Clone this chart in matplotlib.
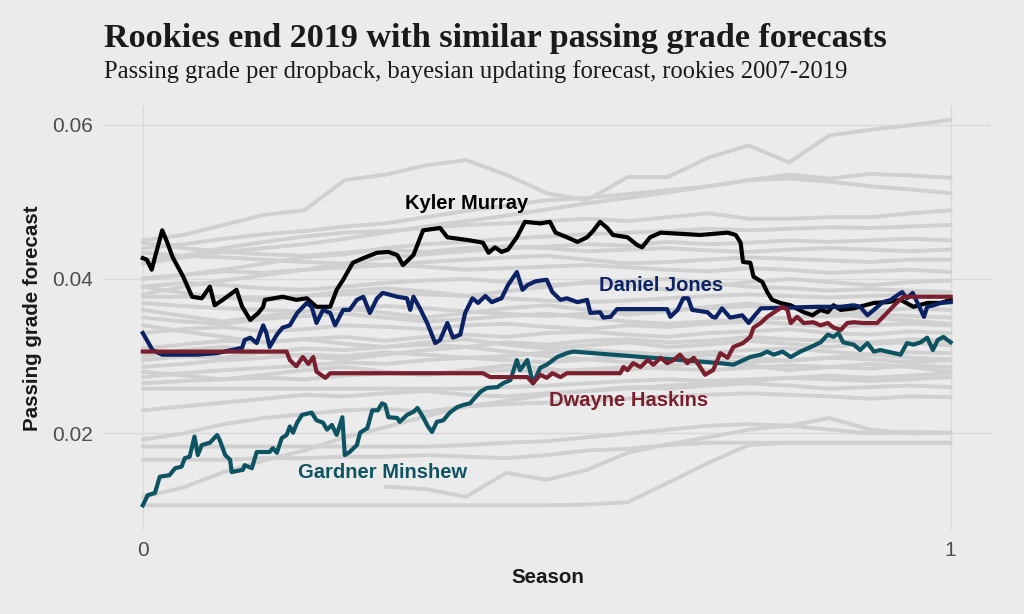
import numpy as np
import matplotlib
matplotlib.use("Agg")
import matplotlib.pyplot as plt

# ===== data =====
season_grid = [0.00, 0.05, 0.10, 0.15, 0.20, 0.25, 0.30, 0.35, 0.40, 0.45, 0.50,
               0.55, 0.60, 0.65, 0.70, 0.75, 0.80, 0.85, 0.90, 0.95, 1.00]

# other rookies 2007-2019 (grey background)
rookies_other = [
    [.0450, .0457, .0470, .0483, .0489, .0528, .0535, .0547, .0554, .0535, .0511,
     .0502, .0532, .0532, .0557, .0573, .0551, .0586, .0593, .0599, .0606],
    [.0440, .0445, .0452, .0458, .0462, .0468, .0472, .0480, .0488, .0495, .0502,
     .0505, .0510, .0515, .0520, .0528, .0535, .0530, .0536, .0534, .0531],
    [.0420, .0428, .0435, .0440, .0445, .0452, .0460, .0468, .0475, .0482, .0490,
     .0498, .0505, .0512, .0520, .0528, .0530, .0526, .0520, .0516, .0511],
    [.0425, .0430, .0440, .0448, .0455, .0460, .0462, .0466, .0470, .0472, .0475,
     .0478, .0475, .0480, .0485, .0478, .0478, .0480, .0480, .0485, .0489],
    [.0400, .0405, .0412, .0420, .0428, .0432, .0440, .0445, .0448, .0452, .0455,
     .0458, .0460, .0462, .0465, .0463, .0465, .0467, .0466, .0468, .0470],
    [.0380, .0390, .0398, .0405, .0412, .0420, .0428, .0432, .0436, .0440, .0442,
     .0445, .0443, .0448, .0445, .0447, .0450, .0448, .0450, .0452, .0450],
    [.0447, .0440, .0435, .0432, .0430, .0434, .0438, .0435, .0440, .0442, .0440,
     .0436, .0438, .0440, .0437, .0435, .0438, .0440, .0438, .0436, .0438],
    [.0434, .0430, .0428, .0425, .0422, .0420, .0418, .0422, .0425, .0428, .0430,
     .0425, .0420, .0422, .0425, .0428, .0426, .0424, .0422, .0425, .0425],
    [.0401, .0405, .0410, .0408, .0412, .0415, .0418, .0416, .0412, .0414, .0416,
     .0418, .0415, .0412, .0410, .0414, .0412, .0408, .0410, .0412, .0409],
    [.0390, .0395, .0392, .0388, .0386, .0390, .0395, .0398, .0400, .0396, .0392,
     .0395, .0398, .0400, .0395, .0390, .0388, .0385, .0387, .0385, .0383],
    [.0377, .0377, .0377, .0376, .0378, .0380, .0382, .0380, .0378, .0375, .0372,
     .0370, .0372, .0375, .0378, .0380, .0378, .0376, .0378, .0380, .0378],
    [.0369, .0365, .0362, .0360, .0358, .0362, .0365, .0362, .0358, .0355, .0352,
     .0355, .0358, .0360, .0362, .0365, .0362, .0360, .0358, .0362, .0360],
    [.0350, .0345, .0342, .0348, .0352, .0355, .0350, .0345, .0348, .0352, .0355,
     .0350, .0345, .0342, .0345, .0348, .0350, .0352, .0355, .0352, .0350],
    [.0330, .0335, .0338, .0332, .0335, .0340, .0338, .0335, .0340, .0342, .0338,
     .0335, .0340, .0338, .0342, .0345, .0342, .0338, .0340, .0342, .0340],
    [.0310, .0315, .0320, .0318, .0322, .0325, .0320, .0325, .0328, .0325, .0330,
     .0332, .0328, .0325, .0330, .0332, .0335, .0330, .0328, .0332, .0330],
    [.0295, .0300, .0298, .0305, .0310, .0308, .0312, .0315, .0312, .0318, .0315,
     .0320, .0322, .0318, .0320, .0325, .0322, .0320, .0318, .0322, .0320],
    [.0286, .0290, .0295, .0298, .0302, .0300, .0305, .0302, .0298, .0300, .0305,
     .0308, .0305, .0302, .0305, .0308, .0310, .0306, .0302, .0305, .0304],
    [.0273, .0278, .0282, .0285, .0288, .0292, .0290, .0295, .0298, .0295, .0292,
     .0296, .0300, .0298, .0295, .0292, .0295, .0298, .0296, .0292, .0295],
    [.0265, .0268, .0270, .0272, .0270, .0275, .0278, .0276, .0280, .0282, .0280,
     .0283, .0286, .0284, .0282, .0285, .0288, .0286, .0284, .0288, .0286],
    [.0258, .0258, .0258, .0258, .0258, .0258, .0258, .0258, .0258, .0260, .0262,
     .0265, .0268, .0270, .0268, .0270, .0272, .0270, .0268, .0270, .0273],
    [.0230, .0235, .0240, .0245, .0250, .0248, .0252, .0255, .0250, .0248, .0252,
     .0255, .0260, .0258, .0262, .0265, .0262, .0258, .0260, .0262, .0260],
    [.0192, .0200, .0212, .0220, .0225, .0230, .0232, .0228, .0235, .0238, .0240,
     .0242, .0245, .0248, .0250, .0252, .0250, .0248, .0245, .0248, .0247],
    [.0183, .0183, .0183, .0183, .0183, .0183, .0183, .0183, .0185, .0188, .0190,
     .0195, .0200, .0205, .0210, .0212, .0210, .0205, .0200, .0202, .0201],
    [.0166, .0166, .0166, .0168, .0168, .0170, .0170, .0172, .0170, .0168, .0172,
     .0178, .0180, .0185, .0188, .0188, .0188, .0188, .0188, .0188, .0188],
    [.0107, .0107, .0107, .0107, .0107, .0107, .0107, .0107, .0107, .0107, .0107,
     .0108, .0111, .0136, .0162, .0185, .0188, .0188, .0188, .0188, .0188],
    [.0118, .0130, .0150, .0165, .0178, .0195, .0208, .0222, .0235, .0242, .0250,
     .0255, .0258, .0262, .0265, .0268, .0272, .0275, .0272, .0275, .0278],
    [np.nan, np.nan, np.nan, np.nan, np.nan, np.nan, .0131, .0128, .0118, .0149, .0140,
     .0153, .0175, .0186, .0195, .0205, .0210, .0220, .0205, .0200, .0201],
    [.0340, .0332, .0325, .0318, .0322, .0316, .0312, .0318, .0322, .0315, .0310,
     .0314, .0318, .0312, .0315, .0320, .0316, .0312, .0316, .0318, .0314],
    [.0300, .0308, .0312, .0305, .0300, .0296, .0302, .0308, .0312, .0306, .0300,
     .0296, .0292, .0298, .0302, .0298, .0294, .0298, .0302, .0298, .0296],
    [.0280, .0275, .0270, .0276, .0282, .0286, .0280, .0276, .0282, .0288, .0284,
     .0278, .0282, .0288, .0292, .0288, .0282, .0286, .0290, .0286, .0280],
    [.0360, .0352, .0345, .0352, .0358, .0362, .0356, .0350, .0356, .0362, .0366,
     .0360, .0354, .0358, .0364, .0368, .0362, .0356, .0350, .0346, .0342],
    [.0390, .0382, .0376, .0372, .0378, .0384, .0388, .0384, .0378, .0384, .0390,
     .0396, .0392, .0386, .0390, .0396, .0400, .0396, .0392, .0396, .0398],
]

# highlighted 2019 rookies: (season fraction, forecast)
murray = [
    (0, .0427), (.005, .0425), (.011, .0412), (.015, .0428), (.024, .0463), (.030, .0448),
    (.037, .0428), (.050, .0403), (.061, .0377), (.073, .0375), (.083, .0390), (.089, .0366),
    (.099, .0373), (.116, .0386), (.123, .0364), (.133, .0347), (.143, .0356), (.149, .0364),
    (.151, .0373), (.173, .0377), (.190, .0373), (.203, .0375), (.215, .0364), (.232, .0364),
    (.240, .0386), (.248, .0399), (.260, .0421), (.273, .0427), (.290, .0434), (.304, .0435),
    (.315, .0431), (.322, .0418), (.335, .0431), (.341, .0447), (.347, .0463), (.368, .0466),
    (.377, .0454), (.405, .0450), (.421, .0447), (.428, .0434), (.436, .0441), (.444, .0435),
    (.452, .0438), (.463, .0454), (.473, .0474), (.492, .0472), (.504, .0474), (.511, .0460),
    (.525, .0454), (.538, .0448), (.550, .0454), (.558, .0463), (.566, .0474), (.575, .0466),
    (.582, .0457), (.600, .0454), (.612, .0444), (.618, .0441), (.628, .0454), (.641, .0460),
    (.690, .0457), (.724, .0460), (.734, .0457), (.740, .0447), (.743, .0422), (.752, .0421),
    (.756, .0403), (.767, .0396), (.773, .0383), (.779, .0373), (.789, .0369), (.802, .0366),
    (.818, .0357), (.829, .0353), (.839, .0360), (.848, .0357), (.855, .0366), (.864, .0360),
    (.880, .0362), (.905, .0369), (.922, .0370), (.938, .0373), (.954, .0364), (.971, .0369),
    (.988, .0369), (1.0, .0373),
]
jones = [
    (0, .0330), (.012, .0308), (.024, .0302), (.067, .0302), (.092, .0304), (.123, .0311),
    (.126, .0321), (.133, .0324), (.141, .0317), (.149, .0340), (.153, .0330), (.157, .0312),
    (.166, .0328), (.173, .0337), (.182, .0340), (.191, .0356), (.203, .0369), (.209, .0364),
    (.215, .0343), (.223, .0360), (.232, .0356), (.238, .0340), (.248, .0360), (.256, .0360),
    (.265, .0373), (.273, .0377), (.281, .0356), (.290, .0375), (.297, .0382), (.315, .0377),
    (.327, .0375), (.331, .0360), (.335, .0377), (.343, .0362), (.352, .0343), (.362, .0317),
    (.368, .0321), (.377, .0343), (.384, .0324), (.393, .0328), (.399, .0356), (.408, .0375),
    (.415, .0369), (.424, .0378), (.432, .0370), (.444, .0375), (.452, .0392), (.463, .0409),
    (.470, .0386), (.476, .0392), (.486, .0397), (.500, .0399), (.507, .0383), (.517, .0373),
    (.525, .0375), (.538, .0370), (.550, .0373), (.554, .0356), (.566, .0357), (.570, .0350),
    (.579, .0351), (.587, .0361), (.649, .0361), (.653, .0351), (.662, .0360), (.669, .0375),
    (.675, .0375), (.680, .0360), (.699, .0357), (.705, .0351), (.709, .0350), (.717, .0362),
    (.727, .0350), (.742, .0353), (.750, .0343), (.756, .0351), (.765, .0362), (.835, .0364),
    (.864, .0364), (.880, .0366), (.888, .0364), (.897, .0353), (.905, .0360), (.916, .0370),
    (.926, .0373), (.934, .0379), (.940, .0383), (.946, .0375), (.953, .0382), (.959, .0369),
    (.967, .0351), (.971, .0364), (.979, .0366), (.988, .0369), (1.0, .0370),
]
haskins = [
    (0, .0306), (.178, .0306), (.182, .0295), (.190, .0287), (.198, .0299), (.205, .0290),
    (.211, .0299), (.215, .0280), (.226, .0272), (.232, .0278), (.421, .0278), (.430, .0273),
    (.476, .0273), (.483, .0265), (.492, .0276), (.500, .0272), (.507, .0278), (.517, .0273),
    (.525, .0278), (.591, .0278), (.595, .0286), (.600, .0282), (.607, .0291), (.616, .0286),
    (.625, .0295), (.632, .0289), (.641, .0298), (.649, .0291), (.657, .0295), (.665, .0302),
    (.674, .0291), (.682, .0298), (.690, .0286), (.696, .0276), (.706, .0282), (.715, .0304),
    (.724, .0298), (.731, .0312), (.743, .0317), (.752, .0325), (.756, .0337), (.765, .0343),
    (.773, .0351), (.786, .0360), (.792, .0364), (.798, .0360), (.802, .0343), (.810, .0351),
    (.818, .0343), (.830, .0344), (.839, .0340), (.848, .0343), (.855, .0337), (.864, .0334),
    (.872, .0343), (.880, .0344), (.892, .0343), (.909, .0343), (.922, .0357), (.934, .0370),
    (.942, .0377), (1.0, .0377),
]
minshew = [
    (0, .0107), (.006, .0120), (.015, .0123), (.021, .0144), (.033, .0146), (.040, .0155),
    (.048, .0157), (.052, .0168), (.058, .0170), (.064, .0196), (.068, .0172), (.073, .0185),
    (.083, .0188), (.092, .0198), (.095, .0192), (.102, .0172), (.108, .0166), (.110, .0150),
    (.124, .0153), (.126, .0159), (.135, .0155), (.141, .0176), (.157, .0176), (.161, .0181),
    (.166, .0175), (.172, .0194), (.178, .0198), (.182, .0209), (.186, .0201), (.191, .0214),
    (.197, .0224), (.209, .0227), (.215, .0217), (.223, .0214), (.228, .0205), (.234, .0211),
    (.240, .0198), (.247, .0221), (.250, .0172), (.256, .0176), (.265, .0185), (.269, .0201),
    (.278, .0207), (.284, .0230), (.291, .0230), (.296, .0239), (.300, .0237), (.304, .0221),
    (.315, .0220), (.318, .0215), (.327, .0224), (.335, .0228), (.340, .0233), (.347, .0221),
    (.353, .0209), (.358, .0202), (.364, .0215), (.372, .0217), (.380, .0227), (.389, .0234),
    (.397, .0237), (.405, .0239), (.411, .0246), (.418, .0254), (.426, .0259), (.439, .0260),
    (.446, .0265), (.455, .0269), (.463, .0295), (.467, .0282), (.476, .0295), (.483, .0265),
    (.492, .0285), (.500, .0289), (.513, .0299), (.525, .0304), (.533, .0306), (.715, .0291),
    (.731, .0289), (.752, .0299), (.765, .0302), (.773, .0306), (.781, .0302), (.792, .0306),
    (.802, .0299), (.814, .0306), (.827, .0312), (.839, .0318), (.848, .0328), (.855, .0325),
    (.861, .0330), (.867, .0318), (.880, .0315), (.888, .0308), (.897, .0317), (.905, .0306),
    (.913, .0308), (.930, .0304), (.938, .0302), (.946, .0317), (.954, .0315), (.963, .0318),
    (.971, .0324), (.978, .0308), (.984, .0321), (.991, .0325), (1.0, .0318),
]

# name, series, colour, label position (season, forecast)
players = [
    ("Gardner Minshew", minshew, "#0e5361", (0.297, 0.0150)),
    ("Kyler Murray", murray, "#000000", (0.401, 0.0498)),
    ("Daniel Jones", jones, "#0b2265", (0.641, 0.0392)),
    ("Dwayne Haskins", haskins, "#7a1f2e", (0.601, 0.0243)),
]

# ===== plot =====
bg = "#ebebeb"
fig = plt.figure(figsize=(10.24, 6.14), dpi=100, facecolor=bg)
ax = fig.add_axes([0.1016, 0.1368, 0.8662, 0.6906], facecolor=bg)

for vals in rookies_other:
    ax.plot(season_grid, vals, color="#d0d0d0", lw=2.8, solid_capstyle="round", zorder=2)

for name, pts, col, (lx, ly) in players:
    xs, ys = zip(*pts)
    ax.plot(xs, ys, color=col, lw=3.0, zorder=3)
    ax.text(lx, ly, name, color=col, fontsize=14.5, fontweight="bold",
            family="Liberation Sans", ha="center", va="center", zorder=4)

ax.set_xlim(-0.048, 1.05)
ax.set_ylim(0.0075, 0.0624)
ax.set_xticks([0, 1])
ax.set_xticklabels(["0", "1"])
ax.set_yticks([0.02, 0.04, 0.06])
ax.set_yticklabels(["0.02", "0.04", "0.06"])
ax.grid(True, color="#d9d9d9", lw=1.0, zorder=0)
ax.set_axisbelow(True)
for s in ax.spines.values():
    s.set_visible(False)
ax.tick_params(length=0, labelsize=15, labelcolor="#4d4d4d", pad=8)
for lab in ax.get_xticklabels() + ax.get_yticklabels():
    lab.set_family("Liberation Sans")

ax.set_xlabel("Season", fontsize=14.8, fontweight="bold", family="Liberation Sans",
              color="#1a1a1a")
ax.set_ylabel("Passing grade forecast", fontsize=14.8, fontweight="bold",
              family="Liberation Sans", color="#1a1a1a")
ax.xaxis.label.set_va("center")
ax.yaxis.label.set_va("center")
ax.xaxis.set_label_coords(0.5, -0.111)
ax.yaxis.set_label_coords(-0.081, 0.5)

fig.text(104 / 1024, 1 - 47 / 614, "Rookies end 2019 with similar passing grade forecasts",
         fontsize=24.6, fontweight="bold", family="Liberation Serif", color="#1a1a1a",
         ha="left", va="baseline")
fig.text(104 / 1024, 1 - 78 / 614,
         "Passing grade per dropback, bayesian updating forecast, rookies 2007-2019",
         fontsize=17.7, family="Liberation Serif", color="#1a1a1a", ha="left", va="baseline")

fig.savefig("out.png", dpi=100, facecolor=bg)
